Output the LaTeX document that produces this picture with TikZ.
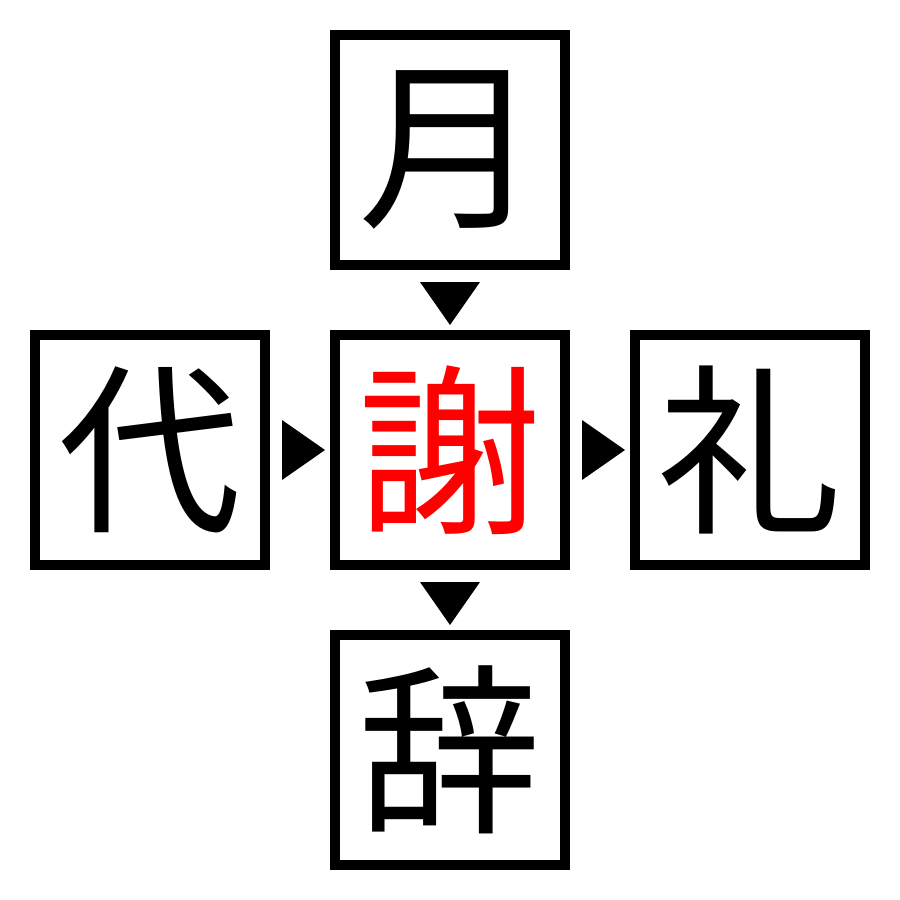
\documentclass[tikz,border=0pt]{standalone}
\usepackage{fontspec}
\newfontfamily\cjk{Noto Sans CJK JP}
\begin{document}
\begin{tikzpicture}[x=0.01cm,y=-0.01cm,
  charbox/.style={draw=black,line width=10*0.01cm,minimum size=230*0.01cm,inner sep=0pt,outer sep=0pt,
    font=\cjk\fontsize{52}{52}\selectfont},
  tri/.style={fill=black,draw=none}]
\useasboundingbox (0,0) rectangle (900,900);
\node[charbox] (top) at (450,150) {月};
\node[charbox] (left) at (150,450) {代};
\node[charbox,text=red] (mid) at (450,450) {謝};
\node[charbox] (right) at (750,450) {礼};
\node[charbox] (bot) at (450,750) {辞};
\fill[tri] (420,282) -- (480,282) -- (450,325) -- cycle;
\fill[tri] (420,582) -- (480,582) -- (450,625) -- cycle;
\fill[tri] (282,420) -- (282,480) -- (325,450) -- cycle;
\fill[tri] (582,420) -- (582,480) -- (625,450) -- cycle;
\end{tikzpicture}
\end{document}
